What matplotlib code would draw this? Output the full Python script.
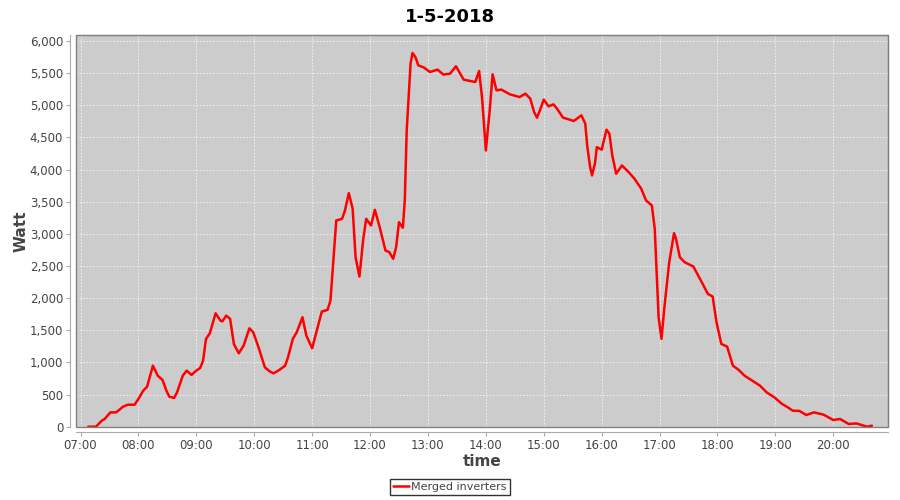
import numpy as np
import pandas as pd
import matplotlib
matplotlib.use('Agg')
import matplotlib.pyplot as plt
import matplotlib.dates as mdates
from matplotlib.ticker import FuncFormatter

# readings of the merged inverters on 1-5-2018
times = ['07:08', '07:16', '07:22', '07:25', '07:31', '07:37', '07:44', '07:49', '07:56', '08:00',
         '08:05', '08:09', '08:15', '08:20', '08:25', '08:29', '08:32', '08:37', '08:40', '08:46',
         '08:50', '08:55', '08:59', '09:04', '09:07', '09:10', '09:14', '09:20', '09:25', '09:27',
         '09:31', '09:35', '09:39', '09:44', '09:49', '09:55', '09:59', '10:05', '10:11', '10:16',
         '10:20', '10:26', '10:32', '10:35', '10:40', '10:44', '10:50', '10:54', '11:00', '11:05',
         '11:10', '11:16', '11:19', '11:22', '11:25', '11:31', '11:34', '11:38', '11:42', '11:45',
         '11:49', '11:53', '11:56', '12:01', '12:05', '12:10', '12:16', '12:20', '12:24', '12:27',
         '12:30', '12:34', '12:36', '12:38', '12:42', '12:44', '12:47', '12:50', '12:56', '13:02',
         '13:10', '13:16', '13:23', '13:29', '13:37', '13:44', '13:49', '13:53', '13:56', '14:00',
         '14:04', '14:07', '14:11', '14:16', '14:25', '14:35', '14:41', '14:46', '14:50', '14:53',
         '14:56', '15:00', '15:05', '15:10', '15:13', '15:20', '15:27', '15:31', '15:39', '15:43',
         '15:45', '15:48', '15:50', '15:53', '15:55', '16:00', '16:05', '16:08', '16:11', '16:15',
         '16:21', '16:28', '16:34', '16:41', '16:46', '16:52', '16:55', '16:59', '17:02', '17:05',
         '17:10', '17:15', '17:17', '17:21', '17:26', '17:35', '17:40', '17:45', '17:50', '17:55',
         '17:59', '18:04', '18:10', '18:16', '18:22', '18:28', '18:37', '18:44', '18:51', '18:59',
         '19:07', '19:12', '19:18', '19:25', '19:32', '19:40', '19:50', '20:00', '20:07', '20:16',
         '20:24', '20:35', '20:40']
watt = [0, 0, 93, 120, 223, 223, 311, 342, 342, 431,
        561, 623, 950, 794, 727, 561, 467, 447, 534, 794,
        872, 805, 861, 914, 1028, 1366, 1453, 1765, 1651, 1640,
        1729, 1678, 1282, 1142, 1262, 1531, 1469, 1210, 924, 861,
        830, 883, 950, 1080, 1366, 1469, 1703, 1417, 1220, 1506,
        1791, 1818, 1963, 2586, 3209, 3235, 3364, 3634, 3391, 2637,
        2336, 2924, 3235, 3131, 3375, 3104, 2741, 2715, 2612, 2793,
        3182, 3095, 3520, 4611, 5650, 5815, 5752, 5623, 5587, 5519,
        5556, 5478, 5494, 5608, 5400, 5379, 5363, 5534, 5129, 4299,
        4922, 5483, 5234, 5245, 5171, 5129, 5182, 5104, 4896, 4808,
        4922, 5089, 4984, 5016, 4964, 4808, 4777, 4756, 4844, 4715,
        4377, 4039, 3910, 4092, 4350, 4310, 4621, 4559, 4221, 3936,
        4065, 3961, 3858, 3702, 3520, 3442, 3079, 1703, 1366, 1858,
        2559, 3011, 2924, 2637, 2559, 2492, 2352, 2212, 2067, 2025,
        1625, 1288, 1246, 950, 883, 794, 706, 639, 534, 456,
        353, 310, 249, 245, 182, 223, 187, 104, 120, 42,
        51, 0, 16]

t = pd.to_datetime(['2018-05-01 ' + s for s in times])

fig = plt.figure(figsize=(9, 5), dpi=100)
ax = fig.add_axes([0.0841, 0.1466, 0.9029, 0.7828])
ax.set_facecolor('#cccccc')

ax.plot(t, watt, color='red', lw=1.8, label='Merged inverters', zorder=3,
        solid_joinstyle='round', solid_capstyle='round')

ax.set_xlim(pd.Timestamp('2018-05-01 06:55'), pd.Timestamp('2018-05-01 20:57'))
ax.set_ylim(0, 6090)
ax.set_yticks(np.arange(0, 6001, 500))
ax.yaxis.set_major_formatter(FuncFormatter(lambda v, p: '{:,.0f}'.format(v)))
ax.xaxis.set_major_locator(mdates.HourLocator())
ax.xaxis.set_major_formatter(mdates.DateFormatter('%H:%M'))

ax.grid(True, color='#f4f4f4', ls=(0, (2, 2)), lw=0.6)
for s in ['top', 'right']:
    ax.spines[s].set_color('#808080')
for s in ['left', 'bottom']:
    ax.spines[s].set_position(('outward', 4))
    ax.spines[s].set_color('#aaaaaa')
ax.tick_params(colors='#444444', labelsize=8.5, length=3, width=0.8, pad=2)
ax.tick_params(axis='both', color='#aaaaaa')

# plot border (the outward spines leave the bottom/left edge bare)
ax.add_patch(plt.Rectangle((0, 0), 1, 1, transform=ax.transAxes, fill=False,
                           ec='#808080', lw=1, zorder=4, clip_on=False))

ax.set_xlabel('time', fontsize=11, fontweight='bold', color='#444444', labelpad=1)
ax.set_ylabel('Watt', fontsize=11, fontweight='bold', color='#444444')
ax.yaxis.set_label_coords(-0.058, 0.5)
fig.suptitle('1-5-2018', fontsize=13, fontweight='bold', x=0.5, y=0.985)

leg = fig.legend(loc='center', bbox_to_anchor=(0.5, 0.026), fontsize=8, frameon=True,
                 fancybox=False, handlelength=1.4, handletextpad=0.2, borderpad=0.3,
                 labelcolor='#444444')
leg.get_frame().set_edgecolor('black')
leg.get_frame().set_linewidth(1)

fig.savefig('out.png', dpi=100)
